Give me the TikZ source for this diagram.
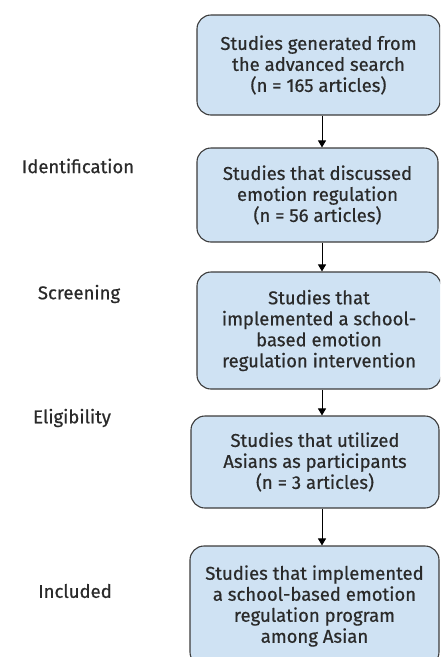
\documentclass[tikz,border=0pt]{standalone}
\usepackage{fontspec}
\setmainfont{Fira Sans}[FakeBold=0.5]
\newfontfamily\boxfont{Fira Sans}[FakeBold=0.6]
\usepackage{tikz}
\usetikzlibrary{arrows.meta}

\definecolor{BoxBlue}{HTML}{CFE2F3}
\definecolor{EdgeGray}{HTML}{3C3C3C}
\definecolor{InkGray}{HTML}{2A2A2A}

\tikzset{
	stagebox/.style={draw=EdgeGray, line width=1.1pt, fill=BoxBlue, rounded corners=14pt, align=center, inner sep=0pt, text=InkGray, font=\boxfont\fontsize{18.5}{21}\selectfont},
	phaselabel/.style={text=InkGray, font=\boxfont\fontsize{18.5}{21}\selectfont},
	flow/.style={-{Triangle[length=7pt, width=8pt]}, line width=0.9pt, black}
}

\begin{document}
\begin{tikzpicture}[x=1pt, y=-1pt]
	\useasboundingbox (0,0) rectangle (440,657);
	\clip (0,0) rectangle (440,657);

	\node[stagebox, minimum width=243pt, minimum height=100pt] (gen) at (318.5,65) {Studies generated from\\the advanced search\\(n = 165 articles)};
	\node[stagebox, minimum width=241pt, minimum height=94pt] (disc) at (317.5,195) {Studies that discussed\\emotion regulation\\(n = 56 articles)};
	\node[stagebox, minimum width=244pt, minimum height=117pt] (impl) at (319,330.5) {Studies that\\implemented a school-\\based emotion\\regulation intervention};
	\node[stagebox, minimum width=248pt, minimum height=92pt] (asian) at (315,462) {Studies that utilized\\Asians as participants\\(n = 3 articles)};
	\node[stagebox, minimum width=249pt, minimum height=120pt] (incl) at (314.5,606) {Studies that implemented\\a school-based emotion\\regulation program\\among Asian};

	\node[phaselabel] (ident) at (78,166) {Identification};
	\node[phaselabel] (screen) at (79,294) {Screening};
	\node[phaselabel] (elig) at (72,418) {Eligibility};
	\node[phaselabel] (included) at (75,591) {Included};

	\coordinate (spine) at (322,0);
	\draw[flow] (gen.south -| spine) -- (disc.north -| spine);
	\draw[flow] (disc.south -| spine) -- (impl.north -| spine);
	\draw[flow] (impl.south -| spine) -- (asian.north -| spine);
	\draw[flow] (asian.south -| spine) -- (incl.north -| spine);

\end{tikzpicture}
\end{document}
